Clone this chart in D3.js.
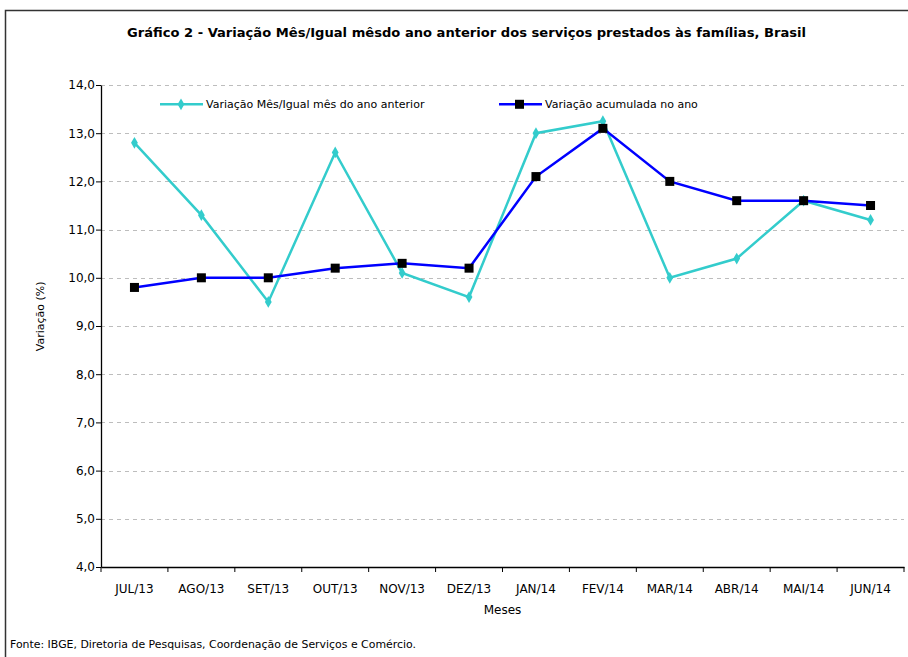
<!DOCTYPE html>
<html>
<head>
<meta charset="utf-8">
<script src="https://cdn.jsdelivr.net/npm/d3@7"></script>
<style>
  body { margin: 0; background: #fff; }
  svg { display: block; font-family: "DejaVu Sans", "Liberation Sans", sans-serif; }
</style>
</head>
<body>
<div id="chart"></div>
<script>
const months = ["JUL/13", "AGO/13", "SET/13", "OUT/13", "NOV/13", "DEZ/13",
                "JAN/14", "FEV/14", "MAR/14", "ABR/14", "MAI/14", "JUN/14"];
const mensal = [12.8, 11.3, 9.5, 12.6, 10.1, 9.6, 13.0, 13.25, 10.0, 10.4, 11.6, 11.2];
const acumulado = [9.8, 10.0, 10.0, 10.2, 10.3, 10.2, 12.1, 13.1, 12.0, 11.6, 11.6, 11.5];
const yTicks = [4, 5, 6, 7, 8, 9, 10, 11, 12, 13, 14];

const W = 908, H = 657;
const margin = { top: 85, right: 4, bottom: 90, left: 101 },
      width = W - margin.left - margin.right,
      height = H - margin.top - margin.bottom;

const fmt = d => d3.format(".1f")(d).replace(".", ",");
const axisFont = "'DejaVu Sans', sans-serif";

const root = d3.select("#chart").append("svg")
  .attr("width", W)
  .attr("height", H);

// outer frame (right/bottom cut off in the original)
root.append("path")
  .attr("d", `M5.5,${H} V10.5 H${W}`)
  .attr("fill", "none")
  .attr("stroke", "#333")
  .attr("stroke-width", 1.5);

root.append("text")
  .attr("x", 127).attr("y", 37)
  .attr("textLength", 679)
  .attr("lengthAdjust", "spacingAndGlyphs")
  .style("font-family", "'DejaVu Sans Condensed', 'DejaVu Sans', sans-serif")
  .style("font-size", "13px")
  .style("font-weight", "bold")
  .text("Gráfico 2 - Variação Mês/Igual mêsdo ano anterior dos serviços prestados às famílias, Brasil");

const svg = root.append("g")
  .attr("transform", `translate(${margin.left},${margin.top})`);

const x = d3.scaleBand().domain(months).range([0, width]);
const y = d3.scaleLinear().domain([4, 14]).range([height, 0]);

// gridlines
svg.append("g")
  .selectAll("line")
  .data(yTicks.filter(d => d > 4))
  .join("line")
  .attr("x1", 0).attr("x2", width)
  .attr("y1", d => Math.round(y(d)) + 0.5).attr("y2", d => Math.round(y(d)) + 0.5)
  .attr("stroke", "#bdbdbd")
  .attr("stroke-dasharray", "4,4");

// y axis
const yAxisG = svg.append("g")
  .call(d3.axisLeft(y).tickValues(yTicks).tickFormat(fmt).tickSize(5).tickSizeOuter(0))
  .attr("font-family", axisFont);
yAxisG.select(".domain").attr("stroke", "#000").attr("stroke-width", 1.3);
yAxisG.selectAll("text").style("font-size", "12px").attr("fill", "#000").attr("x", -6);

// x axis
const xAxisG = svg.append("g")
  .attr("transform", `translate(0,${height})`)
  .call(d3.axisBottom(x).tickSize(0).tickSizeOuter(0))
  .attr("font-family", axisFont);
xAxisG.select(".domain").attr("stroke", "#000").attr("stroke-width", 1.3);
xAxisG.selectAll("text").style("font-size", "12px").attr("fill", "#000").attr("dy", "1.9em");
xAxisG.selectAll(".xt")
  .data(d3.range(months.length + 1))
  .join("line")
  .attr("class", "xt")
  .attr("x1", i => i * x.bandwidth()).attr("x2", i => i * x.bandwidth())
  .attr("y1", 0).attr("y2", 5)
  .attr("stroke", "#000");

// axis titles
svg.append("text")
  .attr("x", width / 2).attr("y", height + 47)
  .attr("text-anchor", "middle")
  .style("font-size", "12px")
  .text("Meses");

svg.append("text")
  .attr("transform", "rotate(-90)")
  .attr("x", -(y(9.2))).attr("y", -57)
  .attr("text-anchor", "middle")
  .style("font-size", "11px")
  .text("Variação (%)");

const cx = (d, i) => x(months[i]) + x.bandwidth() / 2;
const line = d3.line().x(cx).y(d => y(d));

const cyan = "#33CCCC", blue = "#0000FF";

svg.append("path")
  .datum(mensal)
  .attr("d", line)
  .attr("fill", "none")
  .attr("stroke", cyan)
  .attr("stroke-width", 2.5);

svg.append("path")
  .datum(acumulado)
  .attr("d", line)
  .attr("fill", "none")
  .attr("stroke", blue)
  .attr("stroke-width", 2.5);

const diamond = d3.symbol().type(d3.symbolDiamond).size(40);
svg.selectAll(".dm")
  .data(mensal)
  .join("path")
  .attr("class", "dm")
  .attr("d", diamond)
  .attr("transform", (d, i) => `translate(${cx(d, i)},${y(d)})`)
  .attr("fill", cyan);

svg.selectAll(".sq")
  .data(acumulado)
  .join("rect")
  .attr("class", "sq")
  .attr("x", (d, i) => cx(d, i) - 4.5)
  .attr("y", d => y(d) - 4.5)
  .attr("width", 9).attr("height", 9)
  .attr("fill", "#000");

// legend
const legend = svg.append("g").attr("transform", `translate(0,${y(13.6)})`);
const items = [
  { label: "Variação Mês/Igual mês do ano anterior", color: cyan, x: 59, mark: "d" },
  { label: "Variação acumulada no ano", color: blue, x: 398, mark: "s" }
];
items.forEach(it => {
  const g = legend.append("g").attr("transform", `translate(${it.x},0)`);
  g.append("line").attr("x1", 0).attr("x2", 43).attr("stroke", it.color).attr("stroke-width", 2.5);
  if (it.mark === "d") {
    g.append("path").attr("d", diamond).attr("transform", "translate(21,0)").attr("fill", it.color);
  } else {
    g.append("rect").attr("x", 16).attr("y", -4.5).attr("width", 9).attr("height", 9).attr("fill", "#000");
  }
  g.append("text").attr("x", 46).attr("dy", "0.35em")
    .style("font-size", "11px").text(it.label);
});

root.append("text")
  .attr("x", 10).attr("y", 648)
  .attr("textLength", 406)
  .attr("lengthAdjust", "spacingAndGlyphs")
  .style("font-size", "10px")
  .text("Fonte: IBGE, Diretoria de Pesquisas, Coordenação de Serviços e Comércio.");
</script>
</body>
</html>
